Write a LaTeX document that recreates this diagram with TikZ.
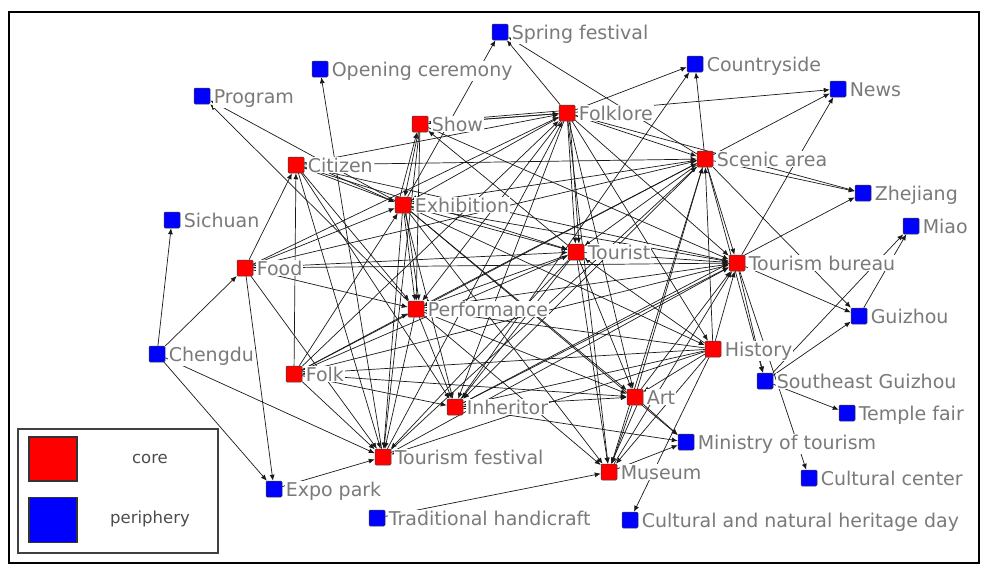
\documentclass[tikz,border=0pt]{standalone}
\usepackage{fontspec}
\setmainfont{DejaVu Sans}
\usetikzlibrary{arrows.meta}
\pgfdeclarelayer{bg}
\pgfsetlayers{bg,main}
\definecolor{lblgray}{RGB}{122,122,122}
\definecolor{nred}{RGB}{255,0,0}
\definecolor{nblue}{RGB}{0,0,255}
\tikzset{
  sq/.style={minimum size=16pt, inner sep=0pt, draw=black!75, line width=0.5pt, rounded corners=1.2pt},
  lbl/.style={anchor=base west, text=lblgray, fill=white, inner sep=0.8pt, font=\fontsize{19}{19}\selectfont},
  e/.style={draw=black!90, line width=0.7pt, -{Latex[length=6pt,width=5pt]}},
}
\newcommand{\nd}[5]{%
  \node[sq, fill=#4] (#1) at (#2,#3) {};
  \node[lbl] (#1-l) at ([xshift=2.5pt,yshift=-7pt]#1.east) {#5};
}
\begin{document}
\begin{tikzpicture}[x=1pt,y=-1pt]
\useasboundingbox (0,0) rectangle (987,571);
\node[draw=black, line width=1.6pt, minimum width=970pt, minimum height=551pt, anchor=north west, inner sep=0pt] (frame) at (8,11) {};
% nodes
\nd{sf}{500}{32}{nblue}{Spring festival}
\nd{oc}{320}{69}{nblue}{Opening ceremony}
\nd{pg}{202}{96}{nblue}{Program}
\nd{cs}{695}{64}{nblue}{Countryside}
\nd{nw}{838}{89}{nblue}{News}
\nd{fl}{567}{113}{nred}{Folklore}
\nd{sh}{420}{124}{nred}{Show}
\nd{ci}{296}{165}{nred}{Citizen}
\nd{sc}{705}{159}{nred}{Scenic area}
\nd{zj}{863}{193}{nblue}{Zhejiang}
\nd{ex}{403}{205}{nred}{Exhibition}
\nd{si}{172}{220}{nblue}{Sichuan}
\nd{mi}{911}{226}{nblue}{Miao}
\nd{tu}{576}{252}{nred}{Tourist}
\nd{tb}{737}{263}{nred}{Tourism bureau}
\nd{fd}{245}{268}{nred}{Food}
\nd{pf}{416}{309}{nred}{Performance}
\nd{gz}{859}{316}{nblue}{Guizhou}
\nd{cd}{157}{354}{nblue}{Chengdu}
\nd{hi}{713}{349}{nred}{History}
\nd{fk}{294}{374}{nred}{Folk}
\nd{sg}{765}{381}{nblue}{Southeast Guizhou}
\nd{ih}{455}{407}{nred}{Inheritor}
\nd{ar}{635}{397}{nred}{Art}
\nd{tp}{847}{413}{nblue}{Temple fair}
\nd{mt}{686}{442}{nblue}{Ministry of tourism}
\nd{tv}{383}{457}{nred}{Tourism festival}
\nd{mu}{609}{472}{nred}{Museum}
\nd{cc}{809}{478}{nblue}{Cultural center}
\nd{ep}{274}{489}{nblue}{Expo park}
\nd{th}{377}{518}{nblue}{Traditional handicraft}
\nd{ch}{630}{520}{nblue}{Cultural and natural heritage day}
% edges
\begin{pgfonlayer}{bg}
\foreach \a/\b in {
  fl/sf, sc/sf, ex/sf, tv/oc, ex/pg, pf/pg, fl/cs, sc/cs, ih/cs,
  fl/nw, sc/nw, tb/nw, sc/zj, fl/zj, ih/zj, sg/mi, gz/mi,
  tb/gz, sc/gz, sg/gz, tb/sg, sc/sg, sg/tp, tb/cc, hi/ch,
  ih/mt, mu/mt, ar/mt, ex/mt, th/mu,
  cd/si, cd/fd, cd/ep, cd/tv, fd/ep, ep/tv,
  sh/fl, fl/sh, fl/sc, fl/tu, fl/tb, fl/ar, fl/mu, fl/ih, fl/pf, fl/ex,
  fd/fl, fk/fl, fl/hi, tv/fl, ci/fl,
  sc/tu, sc/tb, ar/sc, sc/mu, hi/sc, sc/ex, sc/pf, ci/sc, fd/sc, fk/sc, sc/ih, tv/sc,
  tu/tb, tu/ar, tu/mu, tu/pf, tu/ih, hi/tu, tu/tv, fk/tu, fd/tu, ex/tu, ci/tu,
  fd/tb, ex/tb, ci/tb, pf/tb, ih/tb, tv/tb, ar/tb, mu/tb, hi/tb, fk/tb, sh/tb,
  ex/pf, ci/ex, sh/ex, ex/ih, ex/ar, ex/mu, fd/ex, fk/ex, ex/tv, ex/hi, sh/pf,
  pf/ih, pf/tv, pf/ar, hi/pf, pf/mu, fk/pf, fd/pf, ci/pf,
  hi/ar, hi/mu, hi/ih, hi/tv, hi/fk,
  ar/mu, ih/ar, fk/ar,
  fk/ci, fk/ih, fk/tv, ci/tv, fd/ci, fd/tv, sh/tv, ci/ih, tu/sh}
  \draw[e] (\a) -- (\b);
\draw[e] ([xshift=-3pt]ex.north) -- ([xshift=-3pt]sh.south);
\draw[e] ([xshift=3pt]ex.south) -- ([xshift=3pt]pf.north);
\draw[e] ([yshift=2pt]fl.west) -- ([yshift=2pt]sh.east);
\draw[e] ([xshift=3pt]fl.south) -- ([xshift=3pt]tu.north);
\draw[e] ([xshift=2pt]ar.south) -- ([xshift=2pt]mu.north);
\draw[e] ([yshift=3pt]ci.east) -- ([yshift=3pt]ex.west);
\end{pgfonlayer}
% legend
\node[draw=black!75, line width=1.5pt, minimum width=200pt, minimum height=124pt, anchor=north west, inner sep=0pt] (leg) at (17,428) {};
\node[draw=black!80, line width=1.5pt, fill=nred, minimum width=48pt, minimum height=44pt, inner sep=0pt] (legr) at (53,459) {};
\node[draw=black!80, line width=1.5pt, fill=nblue, minimum width=48pt, minimum height=45pt, inner sep=0pt] (legb) at (53,520) {};
\node[text=black!70, font=\fontsize{16.5}{16.5}\selectfont] (legrt) at (150,459) {core};
\node[text=black!70, font=\fontsize{16.5}{16.5}\selectfont] (legbt) at (150,519) {periphery};
\end{tikzpicture}
\end{document}
